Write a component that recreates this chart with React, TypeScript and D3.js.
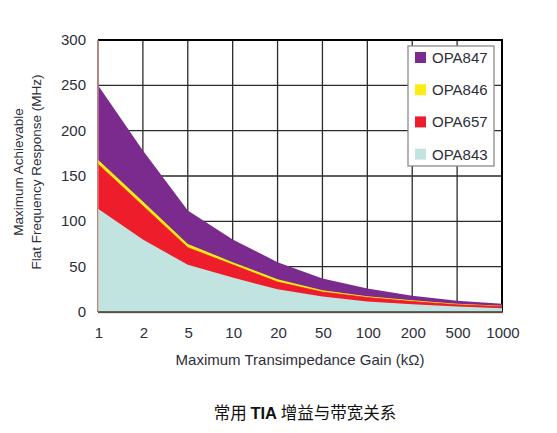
import { area, line, scaleLinear, scalePoint } from 'd3';

const gains = ['1', '2', '5', '10', '20', '50', '100', '200', '500', '1000'];
const opa847 = [250, 178, 112, 80, 55, 37, 26, 18, 12.5, 9];
const opa846 = [168, 122, 75, 55, 36, 24, 17.5, 13, 9, 7];
const opa657 = [163, 117, 71, 52, 33, 22, 16, 11.5, 8, 6];
const opa843 = [114, 80, 52, 38, 25, 17, 11.5, 8.5, 6, 4];
const yTicks = [0, 50, 100, 150, 200, 250, 300];

const series = [
  { name: 'OPA847', values: opa847, color: '#7b2a8e' },
  { name: 'OPA846', values: opa846, color: '#ffeb14' },
  { name: 'OPA657', values: opa657, color: '#ee1d2b' },
  { name: 'OPA843', values: opa843, color: '#c1e4e0' },
];

const width = 557;
const height = 433;
const plot = { left: 98, right: 502, top: 40, bottom: 312 };
const font = '"Liberation Sans", Arial, sans-serif';
const textColor = '#2e2e3a';

export default function App() {
  const xScale = scalePoint<string>().domain(gains).range([plot.left, plot.right]);
  const yScale = scaleLinear().domain([0, 300]).range([plot.bottom, plot.top]);

  const areaPath = area<number>()
    .x((_, i) => xScale(gains[i]) ?? plot.left)
    .y0(yScale(0))
    .y1(d => yScale(d));

  const edge = line<number>()
    .x((_, i) => xScale(gains[i]) ?? plot.left)
    .y(d => yScale(d));

  return (
    <svg
      width={width}
      height={height}
      viewBox={`0 0 ${width} ${height}`}
      style={{ position: 'absolute', left: 0, top: 0, background: '#fff', fontFamily: font }}
    >
      <rect x={plot.left} y={plot.top} width={plot.right - plot.left} height={plot.bottom - plot.top} fill="#fff" />

      {/* grid */}
      {yTicks.map(tick => (
        <line key={`h${tick}`} x1={plot.left} x2={plot.right} y1={yScale(tick)} y2={yScale(tick)} stroke="#2b2b2b" strokeWidth={1.3} />
      ))}
      {gains.map(g => (
        <line key={`v${g}`} x1={xScale(g)} x2={xScale(g)} y1={plot.top} y2={plot.bottom} stroke="#2b2b2b" strokeWidth={1.3} />
      ))}
      <line x1={plot.left} x2={plot.right + 1} y1={plot.top} y2={plot.top} stroke="#000" strokeWidth={2.2} />
      <line x1={plot.right} x2={plot.right} y1={plot.top} y2={plot.bottom} stroke="#000" strokeWidth={2} />

      {/* areas, each from zero, drawn back to front */}
      {series.map(s => (
        <path key={s.name} d={areaPath(s.values) ?? ''} fill={s.color} />
      ))}
      <path d={edge(opa657) ?? ''} fill="none" stroke="#ee1d2b" strokeWidth={0.8} />

      {/* axes */}
      <line x1={plot.left} x2={plot.left} y1={plot.top} y2={plot.bottom} stroke="#f0a090" strokeWidth={1} />
      <line x1={plot.left} x2={plot.right + 1} y1={plot.bottom + 1} y2={plot.bottom + 1} stroke="#f2b8a8" strokeWidth={1} />
      <line x1={plot.left} x2={plot.right + 1} y1={plot.bottom} y2={plot.bottom} stroke="#3a3a3a" strokeWidth={1.5} />

      {yTicks.map(tick => (
        <text key={`yl${tick}`} x={86} y={yScale(tick) + 5} textAnchor="end" fontSize={15} fill={textColor}>
          {tick}
        </text>
      ))}
      {gains.map(g => (
        <text key={`xl${g}`} x={(xScale(g) ?? 0) + 1} y={338} textAnchor="middle" fontSize={15} fill={textColor}>
          {g}
        </text>
      ))}

      <text x={300} y={365} textAnchor="middle" fontSize={15} fill={textColor}>
        Maximum Transimpedance Gain (kΩ)
      </text>
      <g transform="translate(0,172) rotate(-90)">
        <text x={0} y={23} textAnchor="middle" fontSize={13.5} fill={textColor}>
          Maximum Achievable
        </text>
        <text x={0} y={41} textAnchor="middle" fontSize={13.5} fill={textColor}>
          Flat Frequency Response (MHz)
        </text>
      </g>

      {/* legend */}
      <rect x={408} y={46} width={86} height={120} fill="#fff" stroke="#8a8a8a" strokeWidth={1.3} />
      {series.map((s, i) => {
        const cy = 58 + i * 32.2;
        return (
          <g key={`lg${s.name}`}>
            <rect x={415} y={cy - 6} width={11} height={11} fill={s.color} />
            <text x={432} y={cy + 5} fontSize={15} fill={textColor}>
              {s.name}
            </text>
          </g>
        );
      })}

      <text x={305} y={419} textAnchor="middle" fontSize={16.5} fill="#111" fontFamily={'"Noto Sans CJK SC", sans-serif'}>
        常用 <tspan fontWeight="bold" fontFamily={font}>TIA</tspan> 增益与带宽关系
      </text>
    </svg>
  );
}
